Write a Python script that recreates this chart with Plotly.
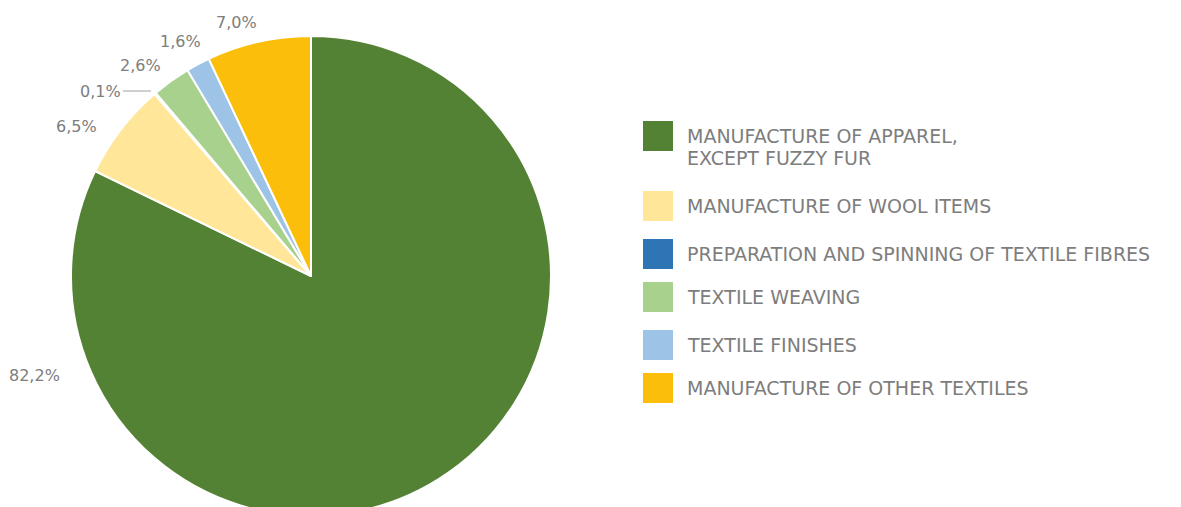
import plotly.graph_objects as go

# ── Data ─────────────────────────────────────────────────────────────────────
categories = [
    "MANUFACTURE OF APPAREL,<br>EXCEPT FUZZY FUR",
    "MANUFACTURE OF WOOL ITEMS",
    "PREPARATION AND SPINNING OF TEXTILE FIBRES",
    "TEXTILE WEAVING",
    "TEXTILE FINISHES",
    "MANUFACTURE OF OTHER TEXTILES",
]
shares = [82.2, 6.5, 0.1, 2.6, 1.6, 7.0]
colors = ["#548235", "#FFE699", "#2E75B6", "#A9D18E", "#9DC3E6", "#FBBF0B"]

# ── Layout constants (page pixels, as in the reference) ──────────────────────
W, H = 1181, 520
OFF = 8  # default body margin of the html page
FONT = "DejaVu Sans"
TEXT_COLOR = "#7d7d7d"
PIE_CX, PIE_CY, PIE_R = 311, 276, 240

# percentage label centres
label_pos = [(34, 375), (76, 127), (100, 91), (140, 65), (180, 42), (236, 22)]
# legend swatch tops
legend_tops = [121, 191, 239, 282, 330, 373]
SWATCH = 30
SWATCH_X = 643
TEXT_X = 685
LINE_GAP = 22


def px_x(x):
    return (x - OFF) / W


def px_y(y):
    return 1 - (y - OFF) / H


fig = go.Figure()
fig.add_trace(go.Pie(
    labels=categories,
    values=shares,
    sort=False,
    direction="clockwise",
    rotation=0,
    marker=dict(colors=colors, line=dict(color="white", width=2)),
    textinfo="none",
    hoverinfo="label+percent",
    showlegend=False,
    domain=dict(
        x=[px_x(PIE_CX - PIE_R), px_x(PIE_CX + PIE_R)],
        y=[px_y(PIE_CY + PIE_R), px_y(PIE_CY - PIE_R)],
    ),
))

annotations = []
shapes = []

# percentage labels
for v, (lx, ly) in zip(shares, label_pos):
    annotations.append(dict(
        x=px_x(lx), y=px_y(ly), xref="paper", yref="paper",
        text=f"{v:.1f}%".replace(".", ","),
        showarrow=False, xanchor="center", yanchor="middle",
        font=dict(family=FONT, size=16, color=TEXT_COLOR),
    ))

# leader line for the tiny 0,1% slice
shapes.append(dict(
    type="line", xref="paper", yref="paper",
    x0=px_x(123), x1=px_x(151), y0=px_y(91), y1=px_y(91),
    line=dict(color="#a0a0a0", width=1),
))

# manual legend with large square swatches
for cat, col, top in zip(categories, colors, legend_tops):
    shapes.append(dict(
        type="rect", xref="paper", yref="paper",
        x0=px_x(SWATCH_X), x1=px_x(SWATCH_X + SWATCH),
        y0=px_y(top + SWATCH), y1=px_y(top),
        fillcolor=col, line=dict(width=0),
    ))
    for i, line in enumerate(cat.split("<br>")):
        annotations.append(dict(
            x=px_x(TEXT_X), y=px_y(top + SWATCH / 2 + i * LINE_GAP),
            xref="paper", yref="paper",
            text=line, showarrow=False, xanchor="left", yanchor="middle",
            font=dict(family=FONT, size=19, color=TEXT_COLOR),
        ))

fig.update_layout(
    width=W,
    height=H,
    margin=dict(l=0, r=0, t=0, b=0),
    paper_bgcolor="white",
    plot_bgcolor="white",
    showlegend=False,
    annotations=annotations,
    shapes=shapes,
)

fig.write_html("out.html")
